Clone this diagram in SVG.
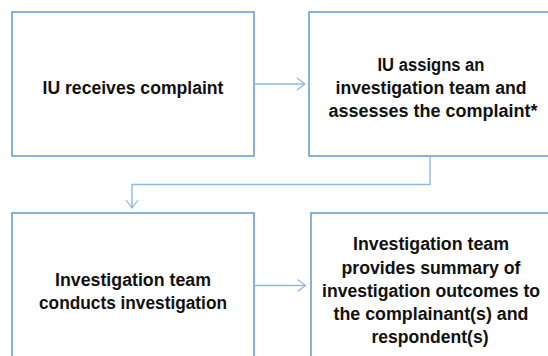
<svg xmlns="http://www.w3.org/2000/svg" width="548" height="356" viewBox="0 0 548 356">
  <defs>
    <style>
      .box { fill: #ffffff; stroke: #6a9fd6; stroke-width: 1.6; }
      .conn { fill: none; stroke: #8db8e3; stroke-width: 1.4; }
      .head { fill: none; stroke: #8db8e3; stroke-width: 1.2; }
      text { font-family: "Liberation Sans", Arial, sans-serif; font-weight: bold; font-size: 17.5px; fill: #111111; text-anchor: middle; }
    </style>
  </defs>
  <rect width="548" height="356" fill="#ffffff"/>
  <g id="node1">
    <rect class="box" x="12" y="12" width="242" height="144"/>
    <text x="133" y="94" textLength="181" lengthAdjust="spacingAndGlyphs">IU receives complaint</text>
  </g>
  <g id="node2">
    <rect class="box" x="309" y="12" width="242" height="144"/>
    <text x="431" y="71" textLength="107" lengthAdjust="spacingAndGlyphs">IU assigns an</text>
    <text x="431" y="94" textLength="191" lengthAdjust="spacingAndGlyphs">investigation team and</text>
    <text x="433" y="117" textLength="209" lengthAdjust="spacingAndGlyphs">assesses the complaint*</text>
  </g>
  <g id="node3">
    <rect class="box" x="12" y="213" width="242" height="150"/>
    <text x="133" y="285.5" textLength="156" lengthAdjust="spacingAndGlyphs">Investigation team</text>
    <text x="133" y="309" textLength="188" lengthAdjust="spacingAndGlyphs">conducts investigation</text>
  </g>
  <g id="node4">
    <rect class="box" x="311" y="213" width="242" height="150"/>
    <text x="431" y="250" textLength="156" lengthAdjust="spacingAndGlyphs">Investigation team</text>
    <text x="431" y="274" textLength="179" lengthAdjust="spacingAndGlyphs">provides summary of</text>
    <text x="431" y="297" textLength="218" lengthAdjust="spacingAndGlyphs">investigation outcomes to</text>
    <text x="431" y="320" textLength="195" lengthAdjust="spacingAndGlyphs">the complainant(s) and</text>
    <text x="430" y="343" textLength="117" lengthAdjust="spacingAndGlyphs">respondent(s)</text>
  </g>
  <g id="connectors">
    <line class="conn" x1="254" y1="84" x2="305" y2="84"/>
    <polyline class="head" points="297,78 305,84 297,90"/>
    <polyline class="conn" points="430,156 430,184.5 132,184.5 132,208"/>
    <polyline class="head" points="126,200 132,208 138,200"/>
    <line class="conn" x1="254" y1="285.5" x2="305.5" y2="285.5"/>
    <polyline class="head" points="297.5,279.5 305.5,285.5 297.5,291.5"/>
  </g>
</svg>
